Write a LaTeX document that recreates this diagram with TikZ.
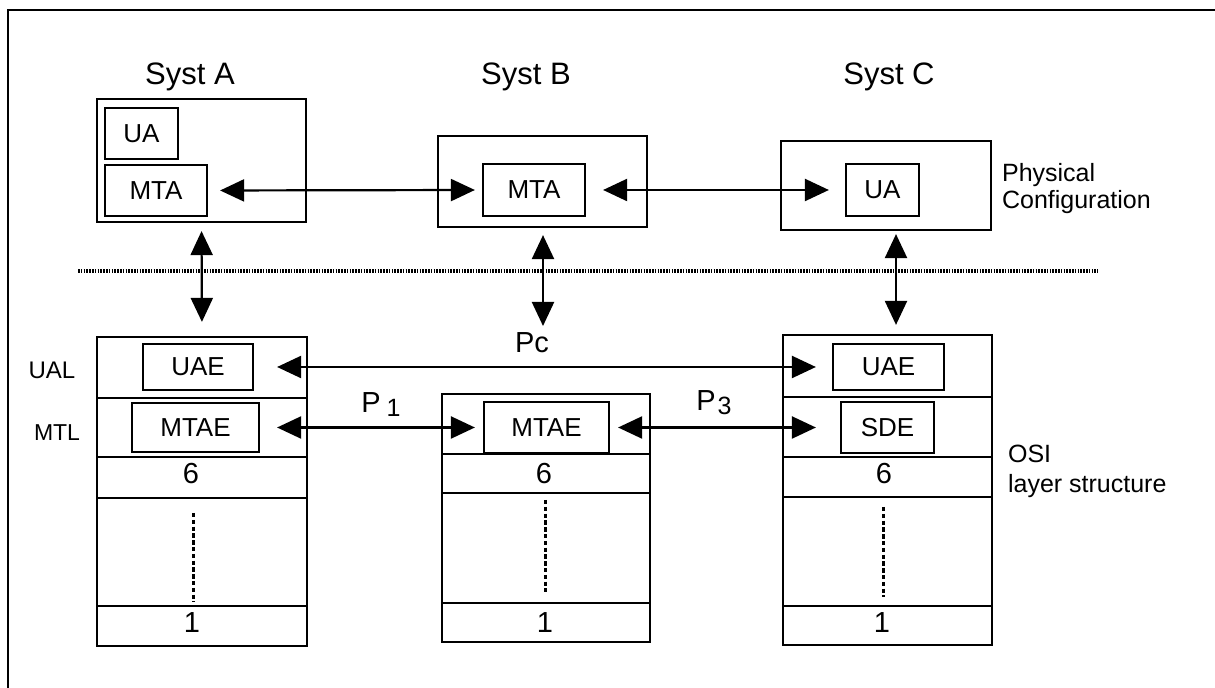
\documentclass[tikz,border=0pt]{standalone}
\usepackage{fontspec}
\setmainfont{Liberation Sans}
\usetikzlibrary{arrows.meta,fit}

\tikzset{
  frameline/.style={line width=1.2pt},
  box/.style={draw, line width=1.1pt, inner sep=0pt},
  boxtext/.style={font=\fontsize{13}{15}\selectfont, inner sep=0pt},
  layerline/.style={line width=1.1pt},
  link/.style={line width=1.1pt,
    {Triangle[length=12pt,width=11pt]}-{Triangle[length=12pt,width=11pt]}},
  syslabel/.style={font=\fontsize{15.5}{18}\selectfont},
  sidelabel/.style={font=\fontsize{12}{14}\selectfont},
  layernum/.style={font=\fontsize{14.5}{16}\selectfont},
  plabel/.style={font=\fontsize{14.5}{16}\selectfont},
  sepline/.style={line width=1.6pt, dash pattern=on 0.8pt off 0.6pt},
  gapline/.style={line width=1.5pt, dash pattern=on 2.2pt off 1.2pt}
}

% a framed box spanning two corners, with its caption centred inside
\newcommand{\cbox}[4]{%
  \node[box, fit={#2 #3}] (#1) {};
  \node[boxtext] (#1-t) at (#1.center) {#4};}

\begin{document}
\begin{tikzpicture}[x=0.5pt,y=-0.5pt]
\useasboundingbox (0,0) rectangle (1215,688);

% outer frame (top and left edges)
\draw[frameline] (1215,10) -- (8,10) -- (8,688);

% ---------- physical configuration ----------
\node[syslabel] (sysA) at (190,77) {Syst A};
\node[syslabel] (sysB) at (526,77) {Syst B};
\node[syslabel] (sysC) at (889,77) {Syst C};

\node[box, fit={(97,99) (306,222)}] (boxA) {};
\cbox{uaA}{(105,108)}{(178,159)}{UA}
\cbox{mtaA}{(105,165)}{(207,216)}{MTA}

\node[box, fit={(438,136) (647,227)}] (boxB) {};
\cbox{mtaB}{(483,164)}{(585,216)}{MTA}

\node[box, fit={(781,141) (991,230)}] (boxC) {};
\cbox{uaC}{(846,164)}{(919,216)}{UA}

\node[anchor=west, align=left,
      font=\fontsize{12.5}{13.5}\selectfont] (phys) at (995,189)
      {Physical\\Configuration};

\draw[link, shorten <=6pt, shorten >=3.5pt] (mtaA.east) -- (mtaB.west);
\draw[link, shorten <=8.5pt, shorten >=8pt] (mtaB.east) -- (uaC.west);

% separator
\coordinate (sepL) at (78,271);
\coordinate (sepR) at (1098,271);
\draw[sepline] (sepL) -- (sepR);

% ---------- OSI layer stacks ----------
% stack A
\node[box, fit={(97,337) (307,646)}] (stackA) {};
\draw[layerline] (97,398) -- (307,398);
\draw[layerline] (97,457) -- (307,457);
\draw[layerline] (97,498) -- (307,498);
\draw[layerline] (97,606) -- (307,606);
\cbox{uaeA}{(143,344)}{(253,390)}{UAE}
\cbox{mtaeA}{(132,403)}{(259,452)}{MTAE}
\node[layernum] (sixA) at (191,474) {6};
\node[layernum] (oneA) at (192,623) {1};
\draw[gapline] (193,513) -- (193,602);

% stack B
\node[box, fit={(442,394) (650,642)}] (stackB) {};
\draw[layerline] (442,454) -- (650,454);
\draw[layerline] (442,493) -- (650,493);
\draw[layerline] (442,603) -- (650,603);
\cbox{mtaeB}{(484,402)}{(609,453)}{MTAE}
\node[layernum] (sixB) at (544,474) {6};
\node[layernum] (oneB) at (545,623) {1};
\draw[gapline] (545,500) -- (545,592);

% stack C
\node[box, fit={(783,335) (992,645)}] (stackC) {};
\draw[layerline] (783,397) -- (992,397);
\draw[layerline] (783,457) -- (992,457);
\draw[layerline] (783,497) -- (992,497);
\draw[layerline] (783,606) -- (992,606);
\cbox{uaeC}{(833,344)}{(944,390)}{UAE}
\cbox{sdeC}{(841,402)}{(934,453)}{SDE}
\node[layernum] (sixC) at (884,474) {6};
\node[layernum] (oneC) at (882,623) {1};
\draw[gapline] (883,507) -- (883,597);

% layer names
\node[sidelabel] (ual) at (52,370) {UAL};
\node[sidelabel, font=\fontsize{11.5}{14}\selectfont] (mtl) at (57,433) {MTL};
\node[anchor=west, align=left, font=\fontsize{12.5}{15}\selectfont] (osi) at (1001,471)
      {OSI\\layer structure};

% ---------- vertical mappings ----------
\coordinate (pcTop) at (543,326);
\coordinate (colC) at (896,300);
\draw[link, shorten <=4pt, shorten >=7pt] (boxA.south) -- (stackA.north);
\draw[link, shorten <=3.5pt] (boxB.south -| pcTop) -- (pcTop);
\draw[link, shorten <=1.5pt, shorten >=4.5pt] (boxC.south -| colC) -- (stackC.north -| colC);

% ---------- protocols ----------
\node[plabel] (pc) at (532,343) {Pc};
\node[plabel] (p1) at (381,405) {P\hspace{3pt}\raisebox{-2pt}{\fontsize{12.5}{14}\selectfont 1}};
\node[plabel] (p3) at (714,403) {P\hspace{1pt}\raisebox{-2pt}{\fontsize{12.5}{14}\selectfont 3}};

\draw[link, shorten <=11.5pt, shorten >=8pt] (uaeA.east) -- (uaeC.west);
\draw[link, shorten <=8.5pt, shorten >=4pt] (mtaeA.east) -- (mtaeB.west);
\draw[link, shorten <=4pt, shorten >=12pt] (mtaeB.east) -- (sdeC.west);

\end{tikzpicture}
\end{document}
